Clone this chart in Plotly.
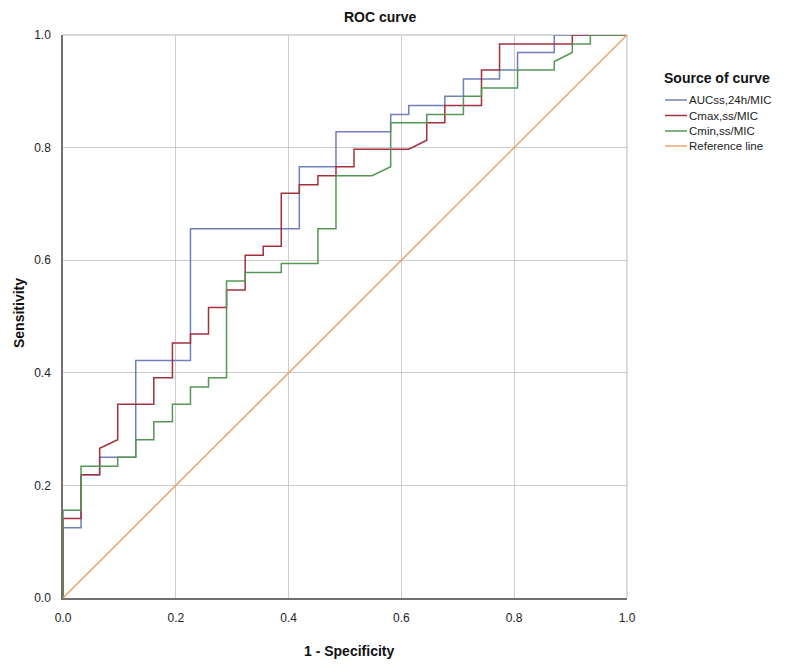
import plotly.graph_objects as go

# ---- data ----
auc_fpr = [0, 0, 0.032, 0.032, 0.065, 0.065, 0.129, 0.129, 0.226, 0.226, 0.419, 0.419,
           0.484, 0.484, 0.581, 0.581, 0.613, 0.613, 0.677, 0.677, 0.710, 0.710,
           0.774, 0.774, 0.806, 0.806, 0.871, 0.871, 1.0]
auc_tpr = [0, 0.125, 0.125, 0.219, 0.219, 0.250, 0.250, 0.422, 0.422, 0.656, 0.656, 0.766,
           0.766, 0.828, 0.828, 0.859, 0.859, 0.875, 0.875, 0.891, 0.891, 0.922,
           0.922, 0.938, 0.938, 0.969, 0.969, 1.0, 1.0]

cmax_fpr = [0, 0, 0.032, 0.032, 0.065, 0.065, 0.097, 0.097, 0.161, 0.161, 0.194, 0.194,
            0.226, 0.226, 0.258, 0.258, 0.290, 0.290, 0.323, 0.323, 0.355, 0.355,
            0.387, 0.387, 0.419, 0.419, 0.452, 0.452, 0.484, 0.484, 0.516, 0.516,
            0.613, 0.645, 0.645, 0.677, 0.677, 0.742, 0.742, 0.774, 0.774, 0.903,
            0.903, 1.0]
cmax_tpr = [0, 0.141, 0.141, 0.219, 0.219, 0.266, 0.281, 0.344, 0.344, 0.391, 0.391, 0.453,
            0.453, 0.469, 0.469, 0.516, 0.516, 0.547, 0.547, 0.609, 0.609, 0.625,
            0.625, 0.719, 0.719, 0.734, 0.734, 0.750, 0.750, 0.766, 0.766, 0.797,
            0.797, 0.813, 0.844, 0.844, 0.875, 0.875, 0.938, 0.938, 0.984, 0.984,
            1.0, 1.0]

cmin_fpr = [0, 0, 0.032, 0.032, 0.097, 0.097, 0.129, 0.129, 0.161, 0.161, 0.194, 0.194,
            0.226, 0.226, 0.258, 0.258, 0.290, 0.290, 0.323, 0.323, 0.387, 0.387,
            0.452, 0.452, 0.484, 0.484, 0.548, 0.581, 0.581, 0.645, 0.645, 0.710,
            0.710, 0.742, 0.742, 0.806, 0.806, 0.871, 0.871, 0.903, 0.903, 0.935,
            0.935, 1.0]
cmin_tpr = [0, 0.156, 0.156, 0.234, 0.234, 0.250, 0.250, 0.281, 0.281, 0.313, 0.313, 0.344,
            0.344, 0.375, 0.375, 0.391, 0.391, 0.563, 0.563, 0.578, 0.578, 0.594,
            0.594, 0.656, 0.656, 0.750, 0.750, 0.766, 0.844, 0.844, 0.859, 0.859,
            0.891, 0.891, 0.906, 0.906, 0.938, 0.938, 0.953, 0.969, 0.984, 0.984,
            1.0, 1.0]

ref_fpr = [0, 1]
ref_tpr = [0, 1]

series_names = ["AUCss,24h/MIC", "Cmax,ss/MIC", "Cmin,ss/MIC", "Reference line"]
series_colors = ["#6f80b8", "#a3303c", "#559655", "#e8a470"]
tick_vals = [0.0, 0.2, 0.4, 0.6, 0.8, 1.0]
tick_text = ["0.0", "0.2", "0.4", "0.6", "0.8", "1.0"]

FONT = "Liberation Sans, Arial, sans-serif"

fig = go.Figure()
for name, color, xs, ys in zip(series_names, series_colors,
                               [auc_fpr, cmax_fpr, cmin_fpr, ref_fpr],
                               [auc_tpr, cmax_tpr, cmin_tpr, ref_tpr]):
    fig.add_trace(go.Scatter(x=xs, y=ys, mode="lines", name=name,
                             line=dict(color=color, width=1.5),
                             showlegend=False, hoverinfo="skip"))

# plot area in pixels
W, H = 797, 666
L, R, T, B = 55, 619, 27, 590

def px_x(p):
    return (p - L) / (R - L)

def px_y(p):
    return (B - p) / (B - T)

fig.update_layout(
    width=W, height=H,
    margin=dict(l=L, r=W - R, t=T, b=H - B, pad=0),
    paper_bgcolor="white", plot_bgcolor="white",
    font=dict(family=FONT, size=12, color="#222222"),
    showlegend=False,
)
fig.update_xaxes(range=[0, 1], tickvals=tick_vals, ticktext=tick_text,
                 showgrid=True, gridcolor="#cccccc", gridwidth=1.4,
                 showline=True, linecolor="#707070", linewidth=1.5,
                 zeroline=False, ticks="", ticklabelstandoff=8,
                 tickfont=dict(size=12, color="#222222"), fixedrange=True)
fig.update_yaxes(range=[0, 1], tickvals=tick_vals, ticktext=tick_text,
                 showgrid=True, gridcolor="#cccccc", gridwidth=1.4,
                 showline=True, linecolor="#707070", linewidth=1.5,
                 zeroline=False, ticks="", ticklabelstandoff=8,
                 tickfont=dict(size=12, color="#222222"), fixedrange=True)

# light border on top/right (grid at 1.0)
fig.add_shape(type="line", xref="paper", yref="paper", x0=0, x1=1, y0=1, y1=1,
              line=dict(color="#cccccc", width=1.4), layer="below")
fig.add_shape(type="line", xref="paper", yref="paper", x0=1, x1=1, y0=0, y1=1,
              line=dict(color="#cccccc", width=1.4), layer="below")

# title and axis titles
fig.add_annotation(text="<b>ROC curve</b>", xref="paper", yref="paper",
                   x=px_x(372), y=px_y(9), showarrow=False,
                   xanchor="center", yanchor="middle",
                   font=dict(size=14, color="#111111", family=FONT))
fig.add_annotation(text="<b>1 - Specificity</b>", xref="paper", yref="paper",
                   x=px_x(341), y=px_y(643), showarrow=False,
                   xanchor="center", yanchor="middle",
                   font=dict(size=14, color="#111111", family=FONT))
fig.add_annotation(text="<b>Sensitivity</b>", xref="paper", yref="paper",
                   x=px_x(11), y=px_y(305), showarrow=False, textangle=-90,
                   xanchor="center", yanchor="middle",
                   font=dict(size=14, color="#111111", family=FONT))

# legend (drawn manually to match spacing)
fig.add_annotation(text="<b>Source of curve</b>", xref="paper", yref="paper",
                   x=px_x(654), y=px_y(70), showarrow=False,
                   xanchor="left", yanchor="middle",
                   font=dict(size=14, color="#111111", family=FONT))
row_y = [92, 107.5, 123, 138]
for name, color, ry in zip(series_names, series_colors, row_y):
    fig.add_shape(type="line", xref="paper", yref="paper",
                  x0=px_x(657), x1=px_x(679), y0=px_y(ry), y1=px_y(ry),
                  line=dict(color=color, width=1.5))
    fig.add_annotation(text=name, xref="paper", yref="paper",
                       x=px_x(679), y=px_y(ry), showarrow=False,
                       xanchor="left", yanchor="middle",
                       font=dict(size=11.5, color="#222222", family=FONT))

fig.write_html("out.html")
